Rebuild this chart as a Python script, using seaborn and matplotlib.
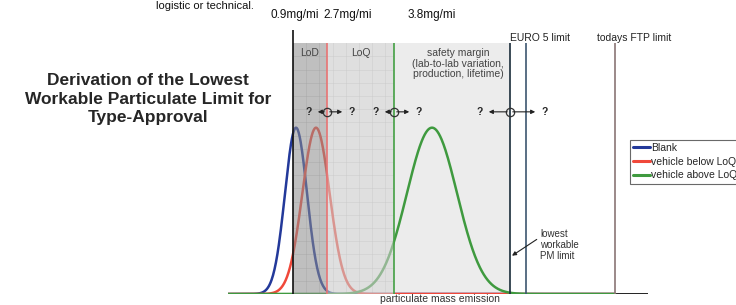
import numpy as np
import pandas as pd
import matplotlib.pyplot as plt
import seaborn as sns
from matplotlib.patches import Rectangle

# emission axis in arbitrary units (0 .. 10.5)
series = ['Blank', 'vehicle below LoQ', 'vehicle above LoQ']
centers = [1.7, 2.2, 5.1]
sigmas = [0.275, 0.34, 0.625]
peak = 0.63
colors = ['#23399a', '#f0483a', '#3f9a3f']

limit_pos = [1.625, 2.475, 4.15, 7.05, 7.45, 9.675]
limit_top = [1.0, 0.95, 0.95, 0.95, 0.95, 0.95]
limit_col = ['#111111', '#e87474', '#44a044', '#1a2c3a', '#3d5670', '#8a7575']

mg_labels = ['0.9mg/mi', '2.7mg/mi', '3.8mg/mi']
mg_x = [1.675, 3.0, 5.1]
limit_labels = ['EURO 5 limit', 'todays FTP limit']
limit_label_x = [7.8, 10.15]

regions = ['LoD', 'LoQ', 'safety margin\n(lab-to-lab variation,\nproduction, lifetime)']
region_edges = [1.625, 2.475, 4.15, 7.05]
region_fill = ['#8c8c8c', '#cacaca', '#ececec']
region_alpha = [0.55, 0.6, 1.0]
region_z = [3, 3, 1.5]   # the safety margin sits under the curves

# uncertainty markers: circle position, left/right arrow reach
q_pos = [2.475, 4.15, 7.05]
q_left = [0.3, 0.3, 0.6]
q_right = [0.45, 0.45, 0.7]

sns.set_style('white')
plt.rcParams['font.family'] = ['Liberation Sans', 'DejaVu Sans']

x = np.linspace(0, limit_pos[-1], 800)
frames = []
for name, c, s in zip(series, centers, sigmas):
    frames.append(pd.DataFrame({'x': x, 'y': peak * np.exp(-0.5 * ((x - c) / s) ** 2), 'series': name}))
df = pd.concat(frames, ignore_index=True)

fig = plt.figure(figsize=(7.36, 3.05), dpi=100)
ax = fig.add_axes([228 / 736, 11 / 305, 420 / 736, 264 / 305])
ax.set_xlim(0, 10.5)
ax.set_ylim(0, 1)
ax.axhline(0, color='#222222', lw=1.4, zorder=1)

sns.lineplot(data=df, x='x', y='y', hue='series', palette=dict(zip(series, colors)),
             lw=1.8, ax=ax, zorder=2, legend=True)

# shaded regions
top = limit_top[1]
clip = Rectangle((region_edges[0], 0), region_edges[-1] - region_edges[0], top,
                 transform=ax.transData, fill=False, lw=0)
ax.add_patch(clip)
for i, lab in enumerate(regions):
    x0, x1 = region_edges[i], region_edges[i + 1]
    ax.add_patch(Rectangle((x0, 0), x1 - x0, top, color=region_fill[i],
                           alpha=region_alpha[i], lw=0, zorder=region_z[i]))
    ax.text((x0 + x1) / 2 + (0.15 if i == 2 else 0), top - 0.02, lab, ha='center', va='top',
            fontsize=7.5, color='#444444', linespacing=1.05, zorder=6)

ax.set_xticks(np.arange(region_edges[0], region_edges[-1], 0.33))
ax.set_yticks(np.arange(0, top, 0.05))
ax.grid(True, color='#c4c4c4', lw=0.5, alpha=0.6)
for gl in ax.get_xgridlines() + ax.get_ygridlines():
    gl.set_clip_path(clip)
    gl.set_zorder(1.8)
ax.tick_params(left=False, bottom=False, labelleft=False, labelbottom=False)
ax.set_xlabel('')
ax.set_ylabel('')
for sp in ax.spines.values():
    sp.set_visible(False)

for xp, tp, col in zip(limit_pos, limit_top, limit_col):
    ax.plot([xp, xp], [0, tp], color=col, lw=1.2, zorder=5, solid_capstyle='butt')

for lab, xp in zip(mg_labels, mg_x):
    ax.text(xp, 1.055, lab, ha='center', va='center', fontsize=8.5, color='#111111', clip_on=False)
for lab, xp in zip(limit_labels, limit_label_x):
    ax.text(xp, 0.97, lab, ha='center', va='center', fontsize=7.5, color='#222222', clip_on=False)

qy = 0.69
for xp, l, r in zip(q_pos, q_left, q_right):
    ax.plot(xp, qy, 'o', mfc='none', mec='#333333', ms=6, mew=0.9, zorder=7)
    ax.annotate('', xy=(xp - l, qy), xytext=(xp, qy),
                arrowprops=dict(arrowstyle='-|>', color='#222222', lw=0.8, mutation_scale=6), zorder=7)
    ax.annotate('', xy=(xp + r, qy), xytext=(xp, qy),
                arrowprops=dict(arrowstyle='-|>', color='#222222', lw=0.8, mutation_scale=6), zorder=7)
    ax.text(xp - l - 0.16, qy, '?', ha='center', va='center', fontsize=7.5, fontweight='bold', zorder=7)
    ax.text(xp + r + 0.16, qy, '?', ha='center', va='center', fontsize=7.5, fontweight='bold', zorder=7)

ax.annotate('lowest\nworkable\nPM limit', xy=(limit_pos[3] + 0.05, 0.145), xytext=(7.8, 0.185),
            fontsize=7, color='#333333', ha='left', va='center', linespacing=1.1,
            arrowprops=dict(arrowstyle='-|>', color='#222222', lw=0.8, mutation_scale=6,
                            shrinkA=0, shrinkB=0, relpos=(0, 0.75)), zorder=7)

fig.text(440 / 736, 0.002, 'particulate mass emission', ha='center', va='bottom', fontsize=7.5,
         color='#333333')

leg = ax.legend(loc='upper left', bbox_to_anchor=(630 / 736, 1 - 140 / 305),
                bbox_transform=fig.transFigure, fontsize=7.5, frameon=True, fancybox=False,
                handlelength=1.6, handletextpad=0.1, borderpad=0.3, labelspacing=0.35,
                borderaxespad=0)
leg.get_frame().set_edgecolor('#444444')
leg.get_frame().set_linewidth(0.8)
for line in leg.get_lines():
    line.set_linewidth(2.2)

fig.text(148 / 736, 1 - 99 / 305, 'Derivation of the Lowest\nWorkable Particulate Limit for\nType-Approval',
         ha='center', va='center', fontsize=12.5, fontweight='bold', linespacing=1.3)
fig.text(205 / 736, 0.998, 'logistic or technical.', ha='center', va='top', fontsize=8,
         color='#111111')

fig.savefig('out.png', dpi=100)
